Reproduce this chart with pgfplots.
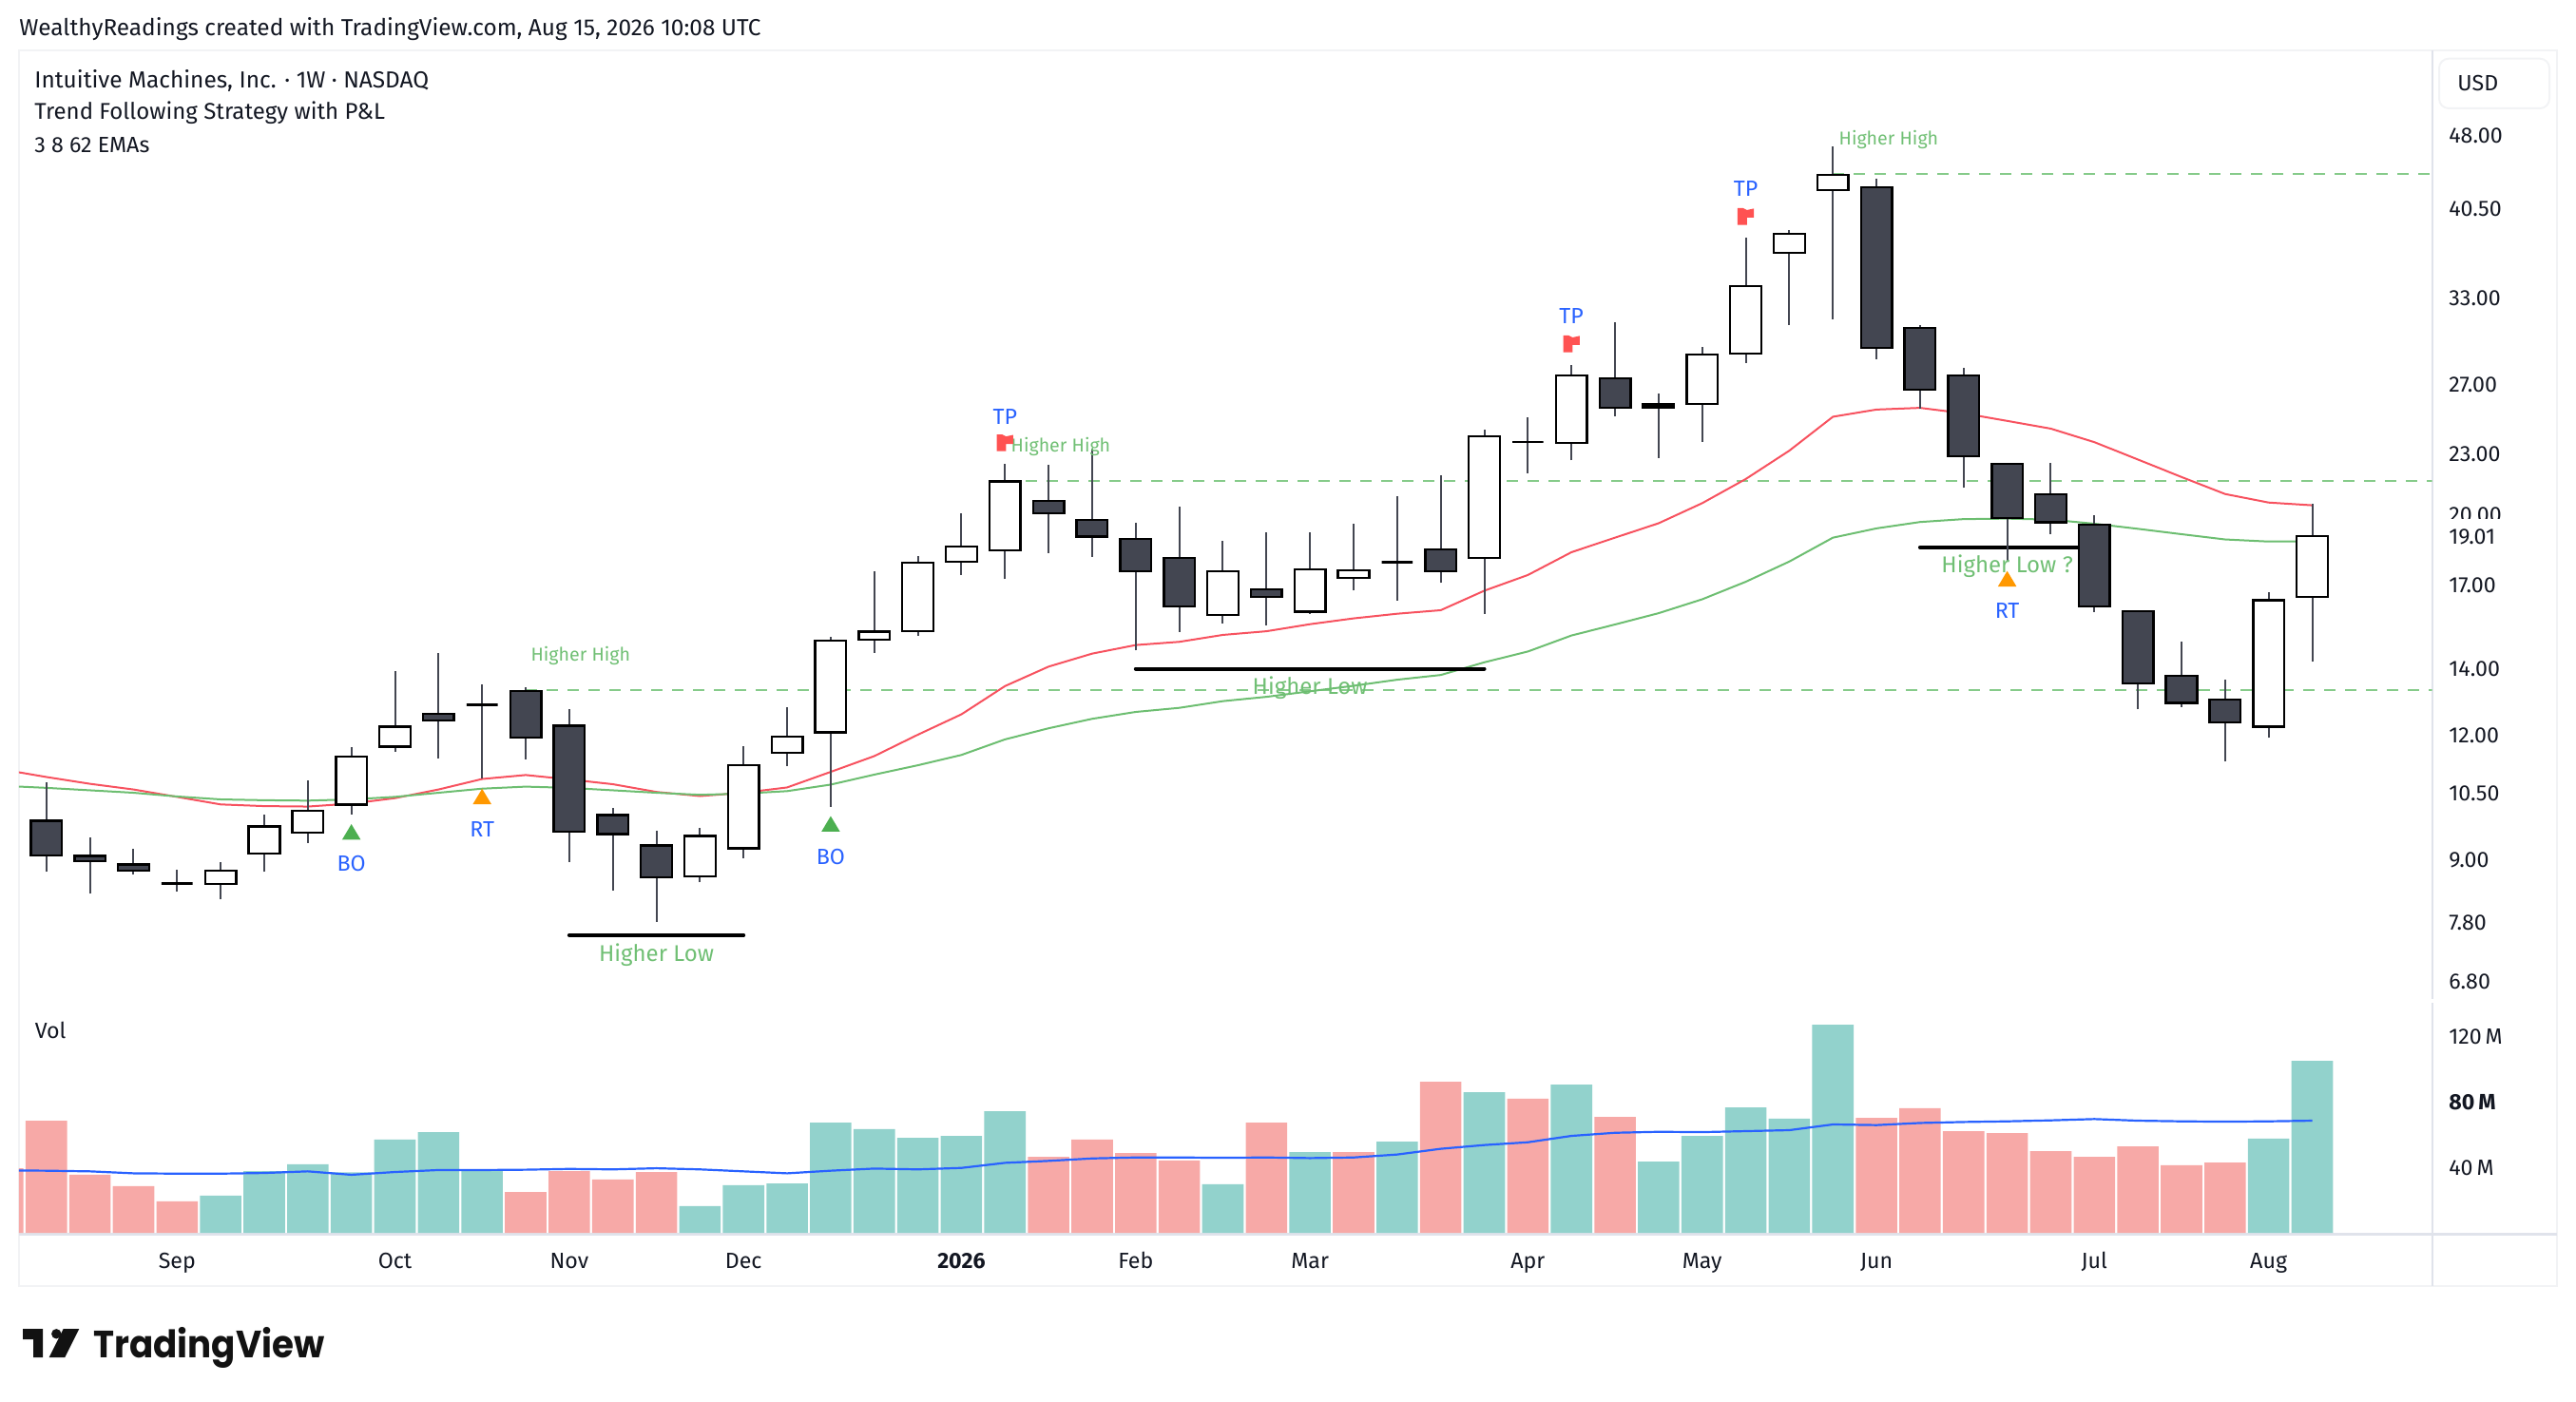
\documentclass[border=0pt]{standalone}
\usepackage{fontspec}
\usepackage{pgfplots}
\usepackage{pgfplotstable}
\pgfplotsset{compat=1.18}
\setmainfont{Fira Sans}
\newfontfamily\logofont{Poppins}

\definecolor{tvtext}{HTML}{131722}
\definecolor{candledown}{HTML}{434651}
\definecolor{volup}{HTML}{92D2CC}
\definecolor{voldown}{HTML}{F7A9A7}
\definecolor{emared}{HTML}{F7525F}
\definecolor{emagreen}{HTML}{6DBE71}
\definecolor{dashgreen}{HTML}{86CB8A}
\definecolor{notegreen}{HTML}{70BF74}
\definecolor{tvblue}{HTML}{2962FF}
\definecolor{rtorange}{HTML}{FF9800}
\definecolor{botri}{HTML}{4CAF50}
\definecolor{flagred}{HTML}{FF5252}
\definecolor{sepcol}{HTML}{E0E3EB}
\definecolor{framecol}{HTML}{F2F3F5}

% weekly candles
\pgfplotstableread{
x o h l c
0 9.86 10.77 8.76 9.10
1 9.09 9.48 8.33 8.98
2 8.91 9.25 8.71 8.79
3 8.53 8.80 8.37 8.53
4 8.52 8.97 8.22 8.79
5 9.14 10.00 8.76 9.73
6 9.59 10.83 9.37 10.09
7 10.24 11.70 10.01 11.44
8 11.70 13.93 11.56 12.25
9 12.63 14.53 11.39 12.43
10 12.89 13.51 10.87 12.89
11 13.31 13.42 11.37 11.95
12 12.28 12.76 8.97 9.62
13 9.99 10.16 8.40 9.56
14 9.31 9.64 7.81 8.65
15 8.67 9.70 8.55 9.52
16 9.25 11.71 9.05 11.22
17 11.54 12.82 11.20 11.98
18 12.09 15.07 10.19 14.96
19 14.99 17.55 14.54 15.26
20 15.28 18.17 15.13 17.90
21 17.94 20.06 17.41 18.58
22 18.42 22.50 17.23 21.59
23 20.66 22.45 18.31 20.06
24 19.77 23.31 18.15 19.02
25 18.91 19.65 14.61 17.55
26 18.09 20.37 15.26 16.18
27 15.87 18.82 15.57 17.55
28 16.83 19.21 15.50 16.53
29 15.98 19.21 15.91 17.62
30 17.28 19.59 16.78 17.59
31 17.92 20.88 16.41 17.92
32 18.47 21.89 17.08 17.55
33 18.09 24.35 15.91 23.98
34 23.67 25.06 22.02 23.67
35 23.60 28.27 22.67 27.58
36 27.42 31.21 25.13 25.61
37 25.81 26.47 22.81 25.63
38 25.83 29.45 23.67 28.97
39 29.03 37.94 28.41 33.93
40 36.62 38.61 31.03 38.27
41 42.34 46.80 31.43 43.86
42 42.63 43.44 28.66 29.40
43 30.78 30.97 25.53 26.71
44 27.58 28.05 21.28 22.89
45 22.50 22.56 17.94 19.84
46 20.96 22.54 19.13 19.65
47 19.55 19.98 15.98 16.18
48 16.01 16.05 12.75 13.55
49 13.79 14.91 12.83 12.95
50 13.05 13.66 11.31 12.37
51 12.25 16.71 11.94 16.41
52 16.55 20.49 14.23 19.04
}\ohlc

% 8 and 62 week EMAs
\pgfplotstableread{
x fast slow
-1 11.10 10.69
0 10.91 10.64
1 10.74 10.58
2 10.60 10.52
3 10.42 10.43
4 10.24 10.36
5 10.20 10.34
6 10.19 10.33
7 10.26 10.36
8 10.39 10.42
9 10.60 10.52
10 10.86 10.62
11 10.96 10.67
12 10.85 10.64
13 10.73 10.58
14 10.54 10.52
15 10.44 10.47
16 10.52 10.50
17 10.65 10.56
18 11.04 10.72
19 11.45 10.97
20 12.03 11.21
21 12.61 11.48
22 13.46 11.90
23 14.08 12.21
24 14.51 12.48
25 14.80 12.68
26 14.91 12.80
27 15.15 13.00
28 15.28 13.13
29 15.53 13.30
30 15.74 13.47
31 15.91 13.66
32 16.04 13.81
33 16.78 14.22
34 17.40 14.58
35 18.34 15.13
36 18.97 15.52
37 19.61 15.93
38 20.54 16.45
39 21.72 17.13
40 23.19 17.95
41 25.08 18.97
42 25.50 19.38
43 25.60 19.67
44 25.28 19.80
45 24.84 19.82
46 24.40 19.78
47 23.65 19.59
48 22.72 19.36
49 21.82 19.12
50 20.98 18.89
51 20.57 18.80
52 20.44 18.80
}\ema

% volume in millions
\pgfplotstableread{
x v
-1 39.5
0 68.6
1 35.5
2 28.5
3 19.2
11 25.0
12 37.8
13 32.6
14 37.2
23 46.5
24 57.0
25 48.8
26 44.2
28 67.4
30 49.4
32 92.4
34 82.0
36 70.9
42 70.3
43 76.2
44 62.2
45 61.0
46 50.0
47 46.5
48 52.9
49 41.3
50 43.0
}\voldown
\pgfplotstableread{
x v
4 22.7
5 37.8
6 41.9
7 37.0
8 57.0
9 61.6
10 38.0
15 16.3
16 29.1
17 30.2
18 67.4
19 63.4
20 58.1
21 59.3
22 74.4
27 29.7
29 49.4
31 55.8
33 86.0
35 90.7
37 43.6
38 59.3
39 76.7
40 69.8
41 127.3
51 57.6
52 105.2
}\volup
\pgfplotstableread{
x m
-1 38.2
0 38.0
1 37.6
2 36.4
3 36.2
4 36.2
5 36.6
6 37.6
7 35.5
8 37.2
9 38.4
10 38.4
11 38.6
12 39.1
13 38.8
14 39.5
15 38.8
16 37.6
17 36.4
18 38.0
19 39.3
20 38.8
21 39.7
22 42.8
23 44.0
24 45.5
25 46.1
26 46.1
27 45.9
28 46.1
29 45.7
30 46.1
31 47.9
32 51.4
33 53.7
34 55.4
35 59.3
36 61.2
37 61.8
38 61.6
39 62.2
40 62.8
41 66.3
42 65.9
43 67.2
44 67.8
45 68.2
46 68.8
47 69.6
48 68.6
49 68.2
50 68.0
51 68.2
52 68.6
}\volma

% markers, sized in pt (1 px of the reference = 0.5pt)
\pgfdeclareplotmark{sigtri}{%
  \pgfpathmoveto{\pgfpoint{-4.9pt}{-4.1pt}}%
  \pgfpathlineto{\pgfpoint{4.9pt}{-4.1pt}}%
  \pgfpathlineto{\pgfpoint{0pt}{4.1pt}}%
  \pgfpathclose\pgfusepathqfill}
\pgfdeclareplotmark{tpflag}{%
  \pgfpathmoveto{\pgfpoint{-4.3pt}{-4.4pt}}%
  \pgfpathlineto{\pgfpoint{-4.3pt}{4.4pt}}%
  \pgfpathlineto{\pgfpoint{-1.4pt}{4.4pt}}%
  \pgfpathlineto{\pgfpoint{0.6pt}{3.4pt}}%
  \pgfpathlineto{\pgfpoint{4.3pt}{4.2pt}}%
  \pgfpathlineto{\pgfpoint{4.3pt}{-0.6pt}}%
  \pgfpathlineto{\pgfpoint{0.6pt}{-0.6pt}}%
  \pgfpathlineto{\pgfpoint{0.6pt}{-4.4pt}}%
  \pgfpathclose\pgfusepathqfill}

\tikzset{
  note/.style={font=\fontsize{#1}{12}\selectfont, text=notegreen},
  sigtext/.style={font=\fontsize{11.6}{13}\selectfont, text=tvblue},
}
\pgfplotsset{
  tvaxis/.style={
    scale only axis,
    width=1269.3pt,
    xmin=-0.628, xmax=54.75,
    axis line style={draw=none},
    major tick length=0pt,
    minor tick length=0pt,
    yticklabel pos=right,
    tick label style={font=\fontsize{11.6}{13}\selectfont, text=tvtext},
    yticklabel style={anchor=west, inner sep=0pt},
    yticklabel shift=8.7pt,
  },
}

\begin{document}
\begin{tikzpicture}
\path[use as bounding box] (0,0) rectangle (1355pt,737pt);

% frame, in pixels of the reference
\begin{scope}[x=0.5pt,y=-0.5pt,yshift=737pt]
  \draw[framecol,line width=1pt] (20,53.3) rectangle (2690,1353);
  \draw[sepcol,line width=1.1pt] (2558.6,53.3) -- (2558.6,1051) (2558.6,1055) -- (2558.6,1353);
  \draw[sepcol,line width=1.3pt] (20,1298.5) -- (2690,1298.5);
\end{scope}

% price pane
\begin{axis}[
  tvaxis,
  at={(10pt,210.5pt)}, anchor=south west,
  height=499.85pt,
  ymode=log, ymin=6.504, ymax=58.44,
  xtick=\empty,
  ytick={48,40.5,33,27,23,20,17,14,12,10.5,9,7.8,6.8},
  yticklabels={48.00,40.50,33.00,27.00,23.00,20.00,17.00,14.00,12.00,10.50,9.00,7.80,6.80},
  minor ytick={},
]
\addplot[dashgreen,line width=1pt,dash pattern=on 5.75pt off 5.25pt] coordinates {(11,13.34) (55,13.34)};
\addplot[dashgreen,line width=1pt,dash pattern=on 5.75pt off 5.25pt] coordinates {(22,21.63) (55,21.63)};
\addplot[dashgreen,line width=1pt,dash pattern=on 5.75pt off 5.25pt] coordinates {(41,43.95) (55,43.95)};
\addplot[emared,line width=1pt] table[x=x,y=fast] {\ema};
\addplot[emagreen,line width=1pt] table[x=x,y=slow] {\ema};
\addplot[black,line width=2pt,line cap=round] coordinates {(12,7.57) (16,7.57)};
\addplot[black,line width=2pt,line cap=round] coordinates {(25,14.01) (33,14.01)};
\addplot[black,line width=2pt,line cap=round] coordinates {(43,18.55) (47,18.55)};

\pgfplotsforeachungrouped \i in {0,...,52}{
  \pgfplotstablegetelem{\i}{o}\of\ohlc \let\O\pgfplotsretval
  \pgfplotstablegetelem{\i}{h}\of\ohlc \let\H\pgfplotsretval
  \pgfplotstablegetelem{\i}{l}\of\ohlc \let\L\pgfplotsretval
  \pgfplotstablegetelem{\i}{c}\of\ohlc \let\C\pgfplotsretval
  \pgfmathsetmacro\xl{\i-0.356}
  \pgfmathsetmacro\xr{\i+0.356}
  \ifdim\C pt<\O pt \def\bodycol{candledown}\else \def\bodycol{white}\fi
  \edef\temp{%
    \noexpand\addplot[candledown,line width=1pt] coordinates {(\i,\L) (\i,\H)};
    \noexpand\addplot[draw=black,fill=\bodycol,line width=1.2pt,line join=miter]
      coordinates {(\xl,\O) (\xr,\O) (\xr,\C) (\xl,\C)} --cycle;
  }
  \temp
}

% strategy signals
\addplot[only marks,mark=sigtri,botri,mark options={fill=botri,draw=none}] coordinates {(7,9.61) (18,9.79)};
\addplot[only marks,mark=sigtri,rtorange,mark options={fill=rtorange,draw=none}] coordinates {(10,10.43) (45,17.25)};
\addplot[only marks,mark=tpflag,flagred,mark options={fill=flagred,draw=none}] coordinates {(22,23.61) (35,29.68) (39,39.84)};

\node[sigtext] at (axis cs:7,8.93) {BO};
\node[sigtext] at (axis cs:18,9.08) {BO};
\node[sigtext] at (axis cs:10,9.66) {RT};
\node[sigtext] at (axis cs:45,16.01) {RT};
\node[sigtext] at (axis cs:22,25.08) {TP};
\node[sigtext] at (axis cs:35,31.68) {TP};
\node[sigtext] at (axis cs:39,42.5) {TP};

\node[note=9.8] at (axis cs:12.26,14.43) {Higher High};
\node[note=9.8] at (axis cs:23.28,23.42) {Higher High};
\node[note=9.8] at (axis cs:42.28,47.54) {Higher High};
\node[note=12] at (axis cs:14,7.24) {Higher Low};
\node[note=12] at (axis cs:29,13.41) {Higher Low};
\node[note=12] at (axis cs:45,17.76) {Higher Low ?};
\end{axis}

% volume pane
\begin{axis}[
  tvaxis,
  at={(10pt,88.5pt)}, anchor=south west,
  height=122pt,
  ymin=0, ymax=141.9,
  xtick={3,8,12,16,21,25,29,34,38,42,47,51},
  xticklabels={Sep,Oct,Nov,Dec,\textbf{2026},Feb,Mar,Apr,May,Jun,Jul,Aug},
  xticklabel style={anchor=base, inner sep=0pt, yshift=-18.5pt},
  xticklabel shift=0pt,
  ytick={40,80,120},
  yticklabels={40\,M,\textbf{80\,M},120\,M},
]
\addplot[ybar,bar width=21.8pt,bar shift=0pt,fill=voldown,draw=none] table[x=x,y=v] {\voldown};
\addplot[ybar,bar width=21.8pt,bar shift=0pt,fill=volup,draw=none] table[x=x,y=v] {\volup};
\addplot[tvblue,line width=1.1pt] table[x=x,y=m] {\volma};
\end{axis}

% pane text, last price and logo
\begin{scope}[x=0.5pt,y=-0.5pt,yshift=737pt]
  \tikzset{hd/.style={anchor=west,inner sep=0pt,text=tvtext,font=\fontsize{12.2}{14}\selectfont}}
  \node[hd] at (20,30.7) {WealthyReadings created with TradingView.com, Aug 15, 2026 10:08 UTC};
  \node[hd] at (36,85) {Intuitive Machines, Inc. · 1W · NASDAQ};
  \node[hd,font=\fontsize{12}{14}\selectfont] at (36,119) {Trend Following Strategy with P\&L};
  \node[hd,font=\fontsize{11.6}{14}\selectfont] at (36,153) {3 8 62 EMAs};
  \node[hd,font=\fontsize{11.6}{14}\selectfont] at (36.4,1084) {Vol};
  \fill[white] (2562,546) rectangle (2688,582);
  \node[hd,font=\fontsize{11.6}{14}\selectfont] at (2576,564.5) {19.01};
  \draw[framecol,line width=1pt,rounded corners=5pt] (2566,61.7) rectangle (2682,114);
  \node[hd,font=\fontsize{11.6}{14}\selectfont] at (2585,87.7) {USD};
  % logo
  \fill[black!93] (24,1398) -- (45,1398) -- (45,1428) -- (35,1428) -- (35,1409) -- (24,1409) -- cycle;
  \fill[black!93] (59.3,1403.3) circle (5.2);
  \fill[black!93] (66.7,1398) -- (83.3,1398) -- (68.3,1428) -- (51.7,1428) -- cycle;
  \node[anchor=base west,inner sep=0pt,text=black!93,xscale=0.93,font=\logofont\bfseries\fontsize{20}{22}\selectfont] at (98,1428) {TradingView};
\end{scope}
\end{tikzpicture}
\end{document}
